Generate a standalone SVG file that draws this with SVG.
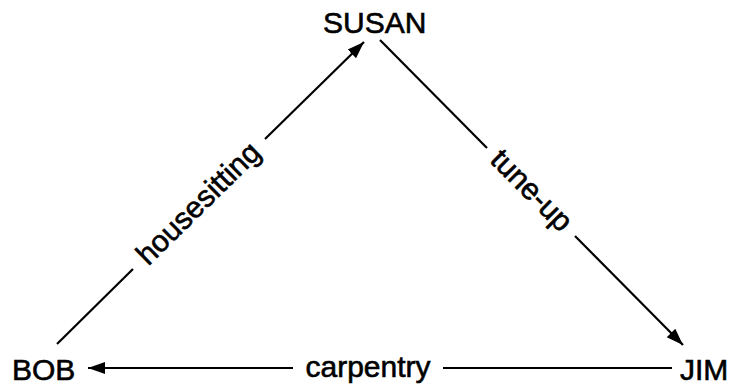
<svg xmlns="http://www.w3.org/2000/svg" width="741" height="388" viewBox="0 0 741 388">
  <style>
    .node { font-family: "Liberation Sans", Arial, sans-serif; font-size: 30px; fill: #000; stroke: #000; stroke-width: 0.6px; }
    .lbl { font-family: "Liberation Sans", Arial, sans-serif; font-size: 30px; fill: #000; stroke: #000; stroke-width: 0.6px; text-anchor: middle; }
    .edge { stroke: #000; stroke-width: 2.2; fill: none; }
  </style>
  <defs>
    <marker id="arrow" markerUnits="userSpaceOnUse" markerWidth="18" markerHeight="14" refX="17" refY="7" orient="auto">
      <path d="M0,1 L17,7 L0,13 z" fill="#000"/>
    </marker>
  </defs>
  <rect width="741" height="388" fill="#fff"/>

  <g id="node-susan"><text class="node" x="323" y="33">SUSAN</text></g>
  <g id="node-bob"><text class="node" x="12" y="380">BOB</text></g>
  <g id="node-jim"><text class="node" x="680" y="380">JIM</text></g>

  <g id="connectors">
    <g id="edge-housesitting">
      <line class="edge" x1="57" y1="344" x2="133" y2="269"/>
      <line class="edge" x1="265" y1="139" x2="364" y2="42" marker-end="url(#arrow)"/>
      <text class="lbl" transform="translate(199,204) rotate(-44.5)" x="0" y="9">housesitting</text>
    </g>
    <g id="edge-tuneup">
      <line class="edge" x1="380" y1="40" x2="487" y2="148"/>
      <line class="edge" x1="575" y1="236" x2="683" y2="345" marker-end="url(#arrow)"/>
      <text class="lbl" transform="translate(531,191) rotate(45.2)" x="0" y="9">tune-up</text>
    </g>
    <g id="edge-carpentry">
      <line class="edge" x1="672" y1="368" x2="443" y2="368"/>
      <line class="edge" x1="293" y1="368" x2="88" y2="368" marker-end="url(#arrow)"/>
      <text class="lbl" x="368" y="377">carpentry</text>
    </g>
  </g>
</svg>
